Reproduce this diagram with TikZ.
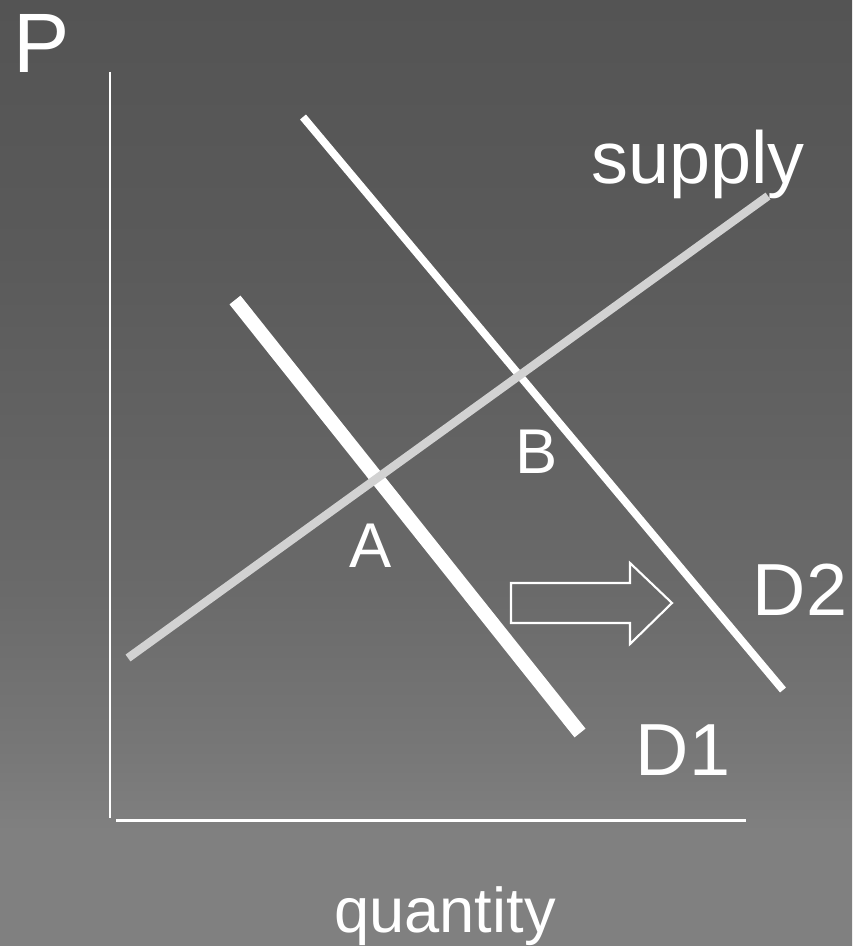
\documentclass[tikz,border=0pt]{standalone}
\usepackage{fontspec}
\setmainfont{Liberation Sans}
\definecolor{bgbot}{RGB}{128,128,128}
\definecolor{bgc}{RGB}{119,119,119}
\definecolor{bgd}{RGB}{106,106,106}
\definecolor{bge}{RGB}{100,100,100}
\definecolor{bgf}{RGB}{90,90,90}
\definecolor{bgtop}{RGB}{84,84,84}
\definecolor{supplygray}{RGB}{210,210,210}
\pgfdeclareverticalshading{slidebg}{100bp}{color(0bp)=(bgbot); color(31bp)=(bgbot); color(35.4bp)=(bgc); color(43.8bp)=(bgd); color(50.2bp)=(bge); color(61.8bp)=(bgf); color(75bp)=(bgtop); color(100bp)=(bgtop)}

\begin{document}
\begin{tikzpicture}[x=0.02cm, y=-0.02cm,
  axis/.style={white, line width=1.7pt},
  curve/.style={line cap=butt},
  lbl/.style={text=white, anchor=base, inner sep=0pt, font=\fontsize{42}{50}\selectfont},
  pointlbl/.style={lbl, font=\fontsize{36}{43}\selectfont}]
  \shade[shading=slidebg] (0,0) rectangle (852,946);
  \useasboundingbox (0,0) rectangle (852,946);

  \coordinate (ytop) at (110,72);
  \coordinate (ybot) at (110,818);
  \coordinate (xleft) at (116,820);
  \coordinate (xright) at (746,820);
  \draw[axis] (ytop) -- (ybot);
  \draw[axis] (xleft) -- (xright);

  \coordinate (d1top) at (235,300);
  \coordinate (d1bot) at (580,733);
  \coordinate (d2top) at (303,117);
  \coordinate (d2bot) at (783,690);
  \coordinate (slow) at (128,658);
  \coordinate (shigh) at (768,196);
  \draw[curve, white, line width=8pt] (d1top) -- (d1bot);
  \draw[curve, white, line width=4.4pt] (d2top) -- (d2bot);
  \draw[curve, supplygray, line width=4.8pt] (slow) -- (shigh);

  \draw[white, line width=1.2pt] (511,583) -- (630,583) -- (630,563) -- (672,603)
    -- (630,644) -- (630,623) -- (511,623) -- cycle;

  \node[lbl, font=\fontsize{48}{56}\selectfont] (plbl) at (42,72) {P};
  \node[lbl] (supplylbl) at (698,183) {supply};
  \node[lbl] (d2lbl) at (800,615) {D2};
  \node[lbl] (d1lbl) at (683,775) {D1};
  \node[pointlbl] (albl) at (371,567) {A};
  \node[pointlbl] (blbl) at (537,473) {B};
  \node[pointlbl] (qlbl) at (445,932) {quantity};
\end{tikzpicture}
\end{document}
